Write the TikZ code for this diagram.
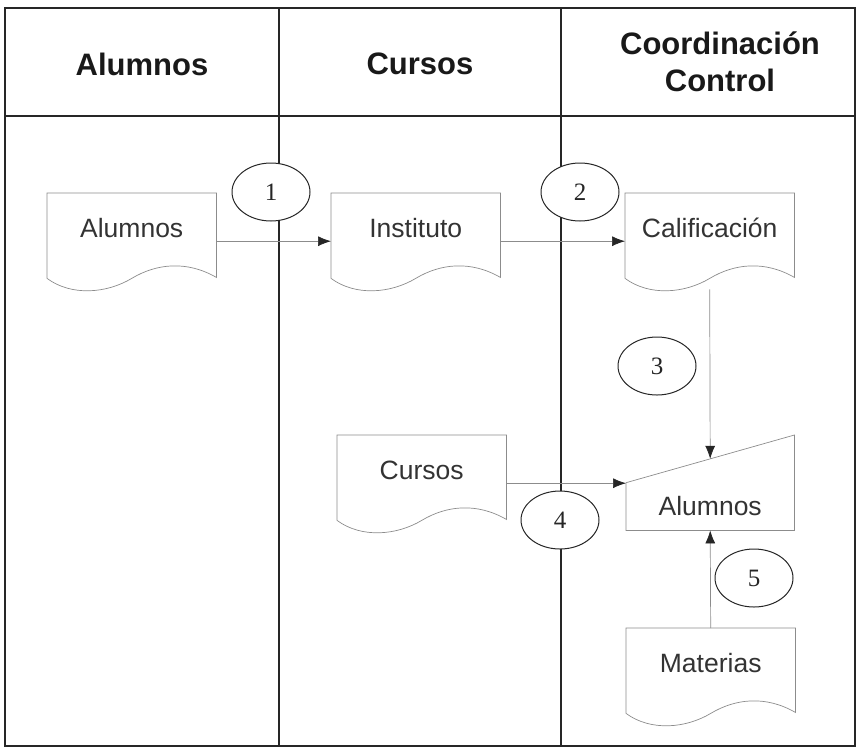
\documentclass[tikz,border=0pt]{standalone}
\usepackage{fontspec}
\setmainfont{Liberation Sans}
\newfontfamily\numfont{Liberation Serif}
\usetikzlibrary{arrows.meta,calc,shapes.geometric}

% document outline drawn round a named doc node
\newcommand{\docshape}[1]{%
\draw [docline]([yshift=11pt]#1.south west) -- (#1.north west) -- (#1.north east) -- ([yshift=12pt]#1.south east)
  .. controls +(-29.5,-17) and +(25,-15) .. ([yshift=11pt]#1.south)
  .. controls +(-25,15) and +(24.5,18) .. ([yshift=11pt]#1.south west);}

\begin{document}
\begin{tikzpicture}[x=1pt,y=-1pt,
  frame/.style={line width=1.6pt,color=black!85},
  lane/.style={line width=1.2pt,color=black!85},
  head/.style={font=\bfseries\fontsize{31}{37}\selectfont,align=center,text=black!90},
  doc/.style={anchor=north west,inner sep=0pt,minimum width=169pt,text height=44.5pt,text depth=51.5pt,
    font=\fontsize{26.5}{30}\selectfont,text=black!80},
  inbox/.style={anchor=north west,inner sep=0pt,minimum width=168pt,text height=80.5pt,text depth=14.5pt,
    font=\fontsize{26.5}{30}\selectfont,text=black!80},
  docline/.style={color=black!45,line width=0.7pt},
  num/.style={ellipse,draw=black!85,fill=white,text=black!85,line width=1pt,minimum width=78pt,minimum height=58pt,
    inner sep=0pt,font=\numfont\fontsize{25}{30}\selectfont},
  flow/.style={color=black!45,line width=0.7pt,-{Latex[length=13pt,width=10pt,color=black!85]}}]
\useasboundingbox (0,0) rectangle (859,748);

% swimlanes
\draw [frame](5,8) rectangle (855,746);
\draw [frame](5,116) -- (855,116);
\draw [lane](279,8) -- (279,746);
\draw [lane](561,8) -- (561,746);
\node [head] (hAlu) at (142,64) {Alumnos};
\node [head] (hCur) at (420,64) {Cursos};
\node [head] (hCoo) at (720,62) {Coordinación\\Control};

% documents
\node [doc] (alu) at (47,193) {Alumnos};
\node [doc] (ins) at (331,193) {Instituto};
\node [doc] (cal) at (625,193) {Calificación};
\node [doc] (cur) at (337,435) {Cursos};
\node [doc] (mat) at (626,628) {Materias};
\docshape{alu}
\docshape{ins}
\docshape{cal}
\docshape{cur}
\docshape{mat}

% manual input
\node [inbox] (ctl) at (626,435) {Alumnos};
\draw [docline](ctl.west) -- (ctl.north east) -- (ctl.south east) -- (ctl.south west) -- cycle;
\coordinate (slant) at ($(ctl.west)!0.5!(ctl.north east)$);

% flows
\draw [flow](alu.east) -- (ins.west);
\draw [flow](ins.east) -- (cal.west);
\draw [flow](cal.south) -- (slant);
\draw [flow](cur.east) -- (cur.east -| ctl.west);
\draw [flow](mat.north) -- (ctl.south);

% steps
\node [num] (n1) at (271,192) {1};
\node [num] (n2) at (580,192) {2};
\node [num] (n3) at (657,366) {3};
\node [num] (n4) at (560,520) {4};
\node [num] (n5) at (754,578) {5};
\end{tikzpicture}
\end{document}
